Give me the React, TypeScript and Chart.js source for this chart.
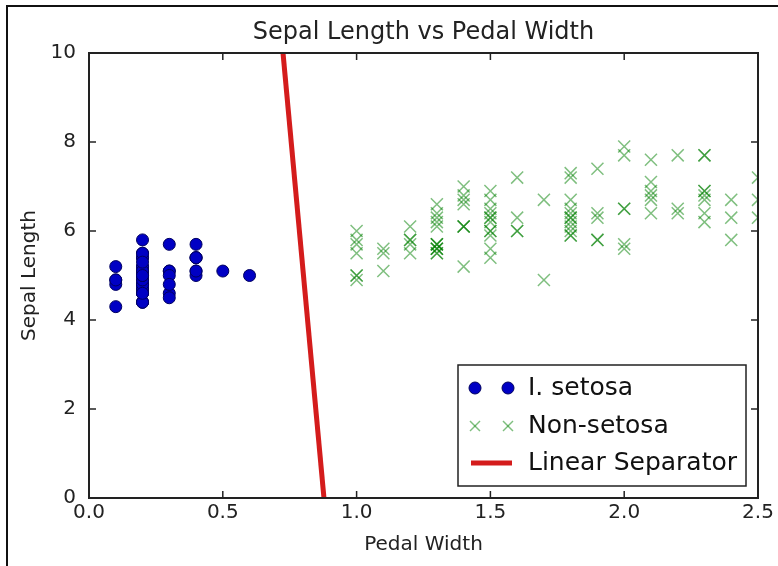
import React, { useEffect, useRef } from "react";
import { Chart, registerables } from "chart.js";

Chart.register(...registerables);

// ---- data (Iris: petal width vs sepal length) ----
const setosaWidth = [0.2,0.2,0.2,0.2,0.2,0.4,0.3,0.2,0.2,0.1,0.2,0.2,0.1,0.1,0.2,0.4,0.4,0.3,0.3,0.3,0.2,0.4,0.2,0.5,0.2,0.2,0.4,0.2,0.2,0.2,0.2,0.4,0.1,0.2,0.2,0.2,0.2,0.1,0.2,0.2,0.3,0.3,0.2,0.6,0.4,0.3,0.2,0.2,0.2,0.2];
const setosaLength = [5.1,4.9,4.7,4.6,5.0,5.4,4.6,5.0,4.4,4.9,5.4,4.8,4.8,4.3,5.8,5.7,5.4,5.1,5.7,5.1,5.4,5.1,4.6,5.1,4.8,5.0,5.0,5.2,5.2,4.7,4.8,5.4,5.2,5.5,4.9,5.0,5.5,4.9,4.4,5.1,5.0,4.5,4.4,5.0,5.1,4.8,5.1,4.6,5.3,5.0];

const otherWidth = [1.4,1.5,1.5,1.3,1.5,1.3,1.6,1.0,1.3,1.4,1.0,1.5,1.0,1.4,1.3,1.4,1.5,1.0,1.5,1.1,1.8,1.3,1.5,1.2,1.3,1.4,1.4,1.7,1.5,1.0,1.1,1.0,1.2,1.6,1.5,1.6,1.5,1.3,1.3,1.3,1.2,1.4,1.2,1.0,1.3,1.2,1.3,1.3,1.1,1.3,
  2.5,1.9,2.1,1.8,2.2,2.1,1.7,1.8,1.8,2.5,2.0,1.9,2.1,2.0,2.4,2.3,1.8,2.2,2.3,1.5,2.3,2.0,2.0,1.8,2.1,1.8,1.8,1.8,2.1,1.6,1.9,2.0,2.2,1.5,1.4,2.3,2.4,1.8,1.8,2.1,2.4,2.3,1.9,2.3,2.5,2.3,1.9,2.0,2.3,1.8];
const otherLength = [7.0,6.4,6.9,5.5,6.5,5.7,6.3,4.9,6.6,5.2,5.0,5.9,6.0,6.1,5.6,6.7,5.6,5.8,6.2,5.6,5.9,6.1,6.3,6.1,6.4,6.6,6.8,6.7,6.0,5.7,5.5,5.5,5.8,6.0,5.4,6.0,6.7,6.3,5.6,5.5,5.5,6.1,5.8,5.0,5.6,5.7,5.7,6.2,5.1,5.7,
  6.3,5.8,7.1,6.3,6.5,7.6,4.9,7.3,6.7,7.2,6.5,6.4,6.8,5.7,5.8,6.4,6.5,7.7,7.7,6.0,6.9,5.6,7.7,6.3,6.7,7.2,6.2,6.1,6.4,7.2,7.4,7.9,6.4,6.3,6.1,7.7,6.3,6.4,6.0,6.9,6.7,6.9,5.8,6.8,6.7,6.7,6.3,6.5,6.2,5.9];

const separatorWidth = [0.878, 0.725];
const separatorLength = [0, 10];

const xTicks = [0, 0.5, 1.0, 1.5, 2.0, 2.5];
const yTicks = [0, 2, 4, 6, 8, 10];

const titleText = "Sepal Length vs Pedal Width";
const xTitle = "Pedal Width";
const yTitle = "Sepal Length";
const legendLabels = ["I. setosa", "Non-setosa", "Linear Separator"];

const FONT = "'DejaVu Sans', sans-serif";
const TEXT = "#222";
const BLUE = "#0000c4";
const BLUE_EDGE = "#000060";
const GREEN = "rgba(0,128,0,0.5)";
const RED = "#d41c1c";

function pts(xs: number[], ys: number[]) {
  return xs.map((x, i) => ({ x, y: ys[i] }));
}

export default function App() {
  const ref = useRef<HTMLCanvasElement>(null);

  useEffect(() => {
    const canvas = ref.current;
    if (!canvas) return;

    const frame = {
      id: "mplFrame",
      beforeDraw(chart: any) {
        const { ctx, width, height } = chart;
        ctx.save();
        ctx.fillStyle = "#fff";
        ctx.fillRect(0, 0, width, height);
        ctx.restore();
      },
      afterDraw(chart: any) {
        const { ctx, chartArea: a, scales } = chart;
        ctx.save();
        const line = (x1: number, y1: number, x2: number, y2: number) => {
          ctx.beginPath();
          ctx.moveTo(x1, y1);
          ctx.lineTo(x2, y2);
          ctx.stroke();
        };
        // inward ticks
        ctx.strokeStyle = "#222";
        ctx.lineWidth = 1.5;
        const tl = 7;
        xTicks.forEach((v) => {
          const px = scales.x.getPixelForValue(v);
          line(px, a.bottom, px, a.bottom - tl);
          line(px, a.top, px, a.top + tl);
        });
        yTicks.forEach((v) => {
          const py = scales.y.getPixelForValue(v);
          line(a.left, py, a.left + tl, py);
          line(a.right, py, a.right - tl, py);
        });
        // spines
        ctx.strokeStyle = "#222";
        ctx.lineWidth = 2;
        ctx.strokeRect(a.left, a.top, a.right - a.left, a.bottom - a.top);

        // legend
        const lx = 458, ly = 365, lw = 288, lh = 121;
        ctx.fillStyle = "#fff";
        ctx.fillRect(lx, ly, lw, lh);
        ctx.lineWidth = 1.5;
        ctx.strokeStyle = "#222";
        ctx.strokeRect(lx, ly, lw, lh);
        const rows = [388, 426, 463];
        const m1 = 475, m2 = 508;
        // row 1: circles
        [m1, m2].forEach((mx) => {
          ctx.beginPath();
          ctx.arc(mx, rows[0], 6, 0, Math.PI * 2);
          ctx.fillStyle = BLUE;
          ctx.fill();
          ctx.lineWidth = 1;
          ctx.strokeStyle = BLUE_EDGE;
          ctx.stroke();
        });
        // row 2: crosses
        ctx.strokeStyle = GREEN;
        ctx.lineWidth = 1.5;
        [m1, m2].forEach((mx) => {
          const r = 5;
          line(mx - r, rows[1] - r, mx + r, rows[1] + r);
          line(mx - r, rows[1] + r, mx + r, rows[1] - r);
        });
        // row 3: red line
        ctx.strokeStyle = RED;
        ctx.lineWidth = 5;
        line(471, rows[2], 512, rows[2]);
        // text
        ctx.fillStyle = "#111";
        ctx.font = `25px ${FONT}`;
        ctx.textBaseline = "middle";
        ctx.textAlign = "left";
        legendLabels.forEach((t, i) => ctx.fillText(t, 528, rows[i]));

        // figure border (left + top)
        ctx.strokeStyle = "#111";
        ctx.lineWidth = 2;
        ctx.beginPath();
        ctx.moveTo(7, chart.height);
        ctx.lineTo(7, 6);
        ctx.lineTo(chart.width, 6);
        ctx.stroke();
        ctx.restore();
      },
    };

    const chart = new Chart(canvas, {
      type: "scatter",
      data: {
        datasets: [
          {
            label: legendLabels[0],
            data: pts(setosaWidth, setosaLength),
            pointStyle: "circle",
            pointRadius: 6,
            backgroundColor: BLUE,
            borderColor: BLUE_EDGE,
            borderWidth: 1,
            clip: 0,
            order: 2,
          },
          {
            label: legendLabels[1],
            data: pts(otherWidth, otherLength),
            pointStyle: "crossRot",
            pointRadius: 8.5,
            backgroundColor: GREEN,
            borderColor: GREEN,
            borderWidth: 1.5,
            clip: 0,
            order: 1,
          },
          {
            label: legendLabels[2],
            data: pts(separatorWidth, separatorLength),
            showLine: true,
            pointRadius: 0,
            borderColor: RED,
            backgroundColor: RED,
            borderWidth: 5,
            clip: 0,
            order: 0,
          },
        ] as any,
      },
      options: {
        responsive: false,
        animation: false,
        events: [],
        layout: { padding: { left: 0, right: 20, top: 0, bottom: 0 } },
        plugins: {
          legend: { display: false },
          tooltip: { enabled: false },
          title: {
            display: true,
            text: titleText,
            fullSize: false,
            color: TEXT,
            font: { family: FONT, size: 24, weight: "normal" },
            padding: { top: 18.6, bottom: 5.6 },
          },
        },
        scales: {
          x: {
            type: "linear",
            min: 0,
            max: 2.5,
            grid: { display: false, drawTicks: false },
            border: { display: false },
            ticks: {
              stepSize: 0.5,
              padding: 3,
              color: TEXT,
              font: { family: FONT, size: 20 },
              maxRotation: 0,
              autoSkip: false,
              callback: (v: any) => Number(v).toFixed(1),
            },
            title: {
              display: true,
              text: xTitle,
              color: TEXT,
              font: { family: FONT, size: 20 },
              padding: { top: 0, bottom: 9 },
            },
            afterFit: (s: any) => {
              s.height = 68;
            },
          },
          y: {
            type: "linear",
            min: 0,
            max: 10,
            grid: { display: false, drawTicks: false },
            border: { display: false },
            ticks: {
              stepSize: 2,
              padding: 13,
              color: TEXT,
              font: { family: FONT, size: 20 },
              autoSkip: false,
            },
            title: {
              display: true,
              text: yTitle,
              color: TEXT,
              font: { family: FONT, size: 20 },
              padding: { top: 18, bottom: 0 },
            },
            afterFit: (s: any) => {
              s.width = 89;
            },
          },
        },
      } as any,
      plugins: [frame],
    });

    return () => chart.destroy();
  }, []);

  return (
    <div style={{ position: "fixed", left: 0, top: 0, width: 778, height: 566, background: "#fff" }}>
      <canvas ref={ref} width={778} height={566} style={{ width: 778, height: 566, display: "block" }} />
    </div>
  );
}
